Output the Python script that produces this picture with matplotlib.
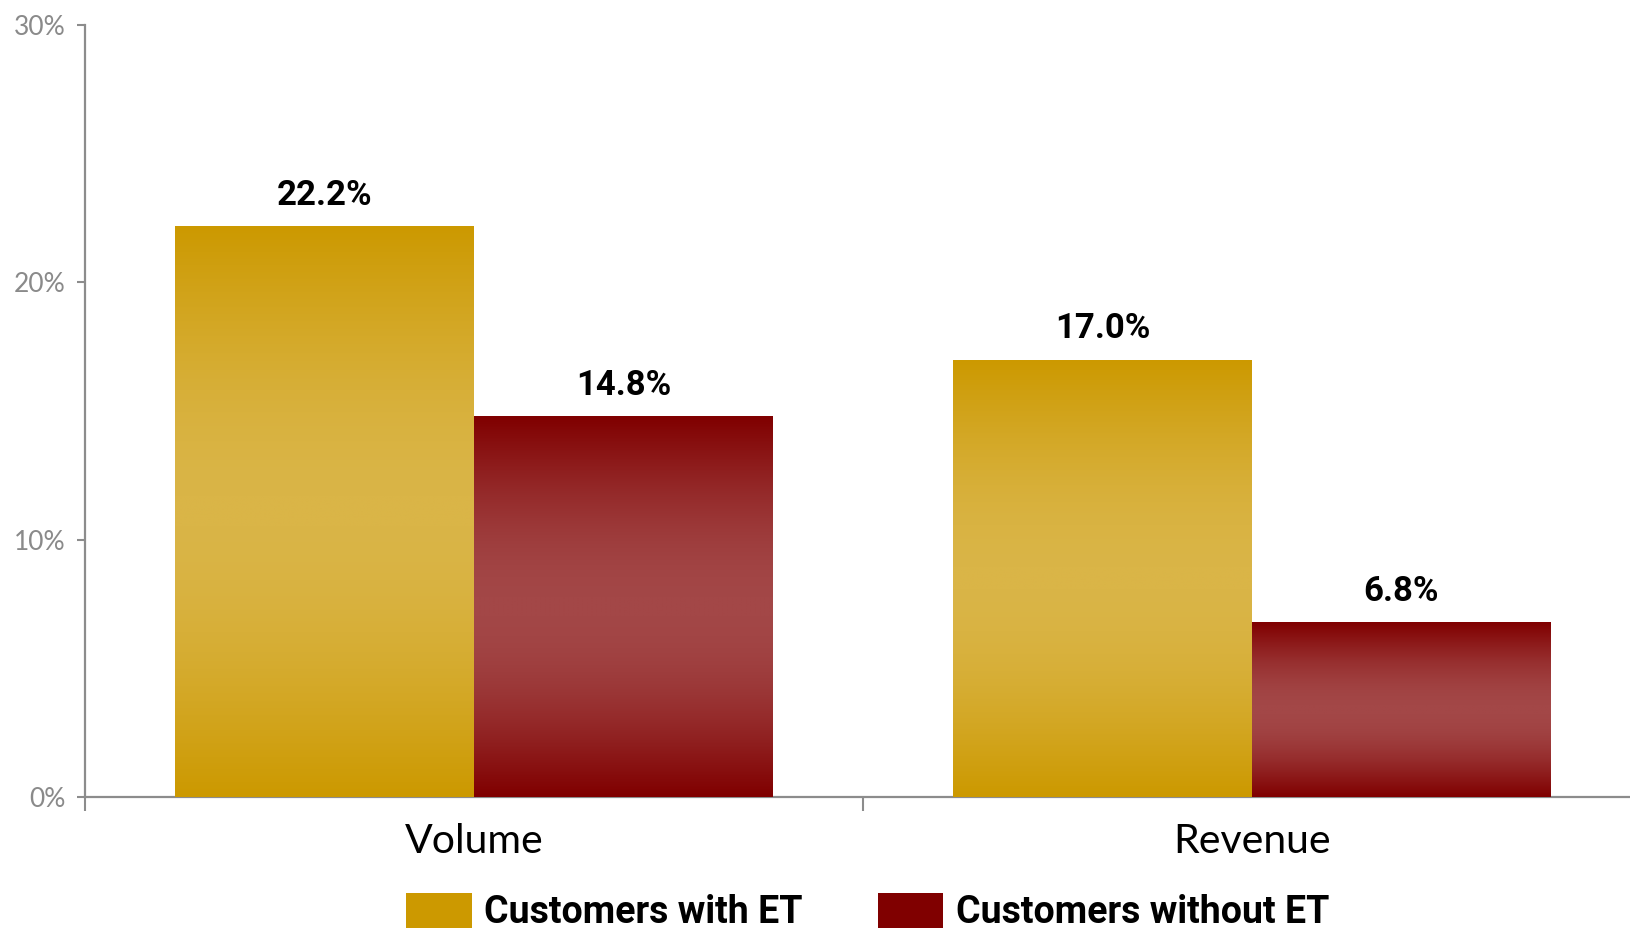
import numpy as np
import matplotlib
matplotlib.use("Agg")
import matplotlib.pyplot as plt
from matplotlib.colors import LinearSegmentedColormap

# data
categories = ["Volume", "Revenue"]
series_names = ["Customers with ET", "Customers without ET"]
with_et = [22.2, 17.0]
without_et = [14.8, 6.8]
y_ticks = [0, 10, 20, 30]

# colours: edge (dark) and centre (light) of the vertical gradient
gold_dark, gold_light = "#CC9900", "#DAB547"
red_dark, red_light = "#800000", "#A34747"

label_font = ["Roboto", "DejaVu Sans"]
axis_font = ["Lato", "DejaVu Sans"]
axis_grey = "#8C8C8C"

fig = plt.figure(figsize=(16.3, 9.3), dpi=100)
ax = fig.add_axes([85 / 1630, 1 - 797 / 930, 1556 / 1630, 772 / 930])

x = np.arange(len(categories))
width = 0.384
bars_with = ax.bar(x - width / 2, with_et, width, color=gold_dark, label=series_names[0], zorder=2)
bars_without = ax.bar(x + width / 2, without_et, width, color=red_dark, label=series_names[1], zorder=2)

# vertical gradient fill: dark at top and bottom, light in the middle
t = np.linspace(0, 1, 256)
grad = np.sin(np.pi * t).reshape(-1, 1)
for bars, dark, light in [(bars_with, gold_dark, gold_light), (bars_without, red_dark, red_light)]:
    cmap = LinearSegmentedColormap.from_list("g", [dark, light])
    for rect in bars:
        x0, y0 = rect.get_x(), rect.get_y()
        w, h = rect.get_width(), rect.get_height()
        im = ax.imshow(grad, cmap=cmap, aspect="auto", extent=[x0, x0 + w, y0, y0 + h],
                       zorder=3, interpolation="bilinear")
        im.set_clip_path(rect)

# value labels
for bars, vals in [(bars_with, with_et), (bars_without, without_et)]:
    for rect, v in zip(bars, vals):
        ax.annotate(f"{v:.1f}%", (rect.get_x() + rect.get_width() / 2, v),
                    xytext=(0, 22), textcoords="offset points", ha="center", va="center",
                    fontsize=25, fontweight="bold", family=label_font, color="black")

ax.set_xlim(-0.5, 1.5)
ax.set_ylim(0, 30)

# axes styling
for side in ["top", "right"]:
    ax.spines[side].set_visible(False)
for side in ["left", "bottom"]:
    ax.spines[side].set_color(axis_grey)
    ax.spines[side].set_linewidth(1.6)

ax.set_yticks(y_ticks)
ax.set_yticklabels([f"{t}%" for t in y_ticks])
ax.tick_params(axis="y", direction="out", length=6, width=1.5, color=axis_grey,
               labelcolor="#8A8A8A", labelsize=19, pad=8)
for lbl in ax.get_yticklabels():
    lbl.set_family(axis_font)

ax.set_xticks(x)
ax.set_xticklabels(categories)
ax.set_xticks([-0.5, 0.5, 1.5], minor=True)
ax.tick_params(axis="x", which="major", length=0, labelsize=29.5, labelcolor="black", pad=19)
ax.tick_params(axis="x", which="minor", direction="out", length=10, width=1.5, color=axis_grey)
for lbl in ax.get_xticklabels():
    lbl.set_family(axis_font)

leg = ax.legend(loc="center", bbox_to_anchor=(0.503, -0.149), ncol=2, frameon=False,
                prop={"family": label_font, "weight": "bold", "size": 27},
                handlelength=1.75, handleheight=1.05, handletextpad=0.33, columnspacing=2.0)

fig.savefig("out.png", dpi=100)
